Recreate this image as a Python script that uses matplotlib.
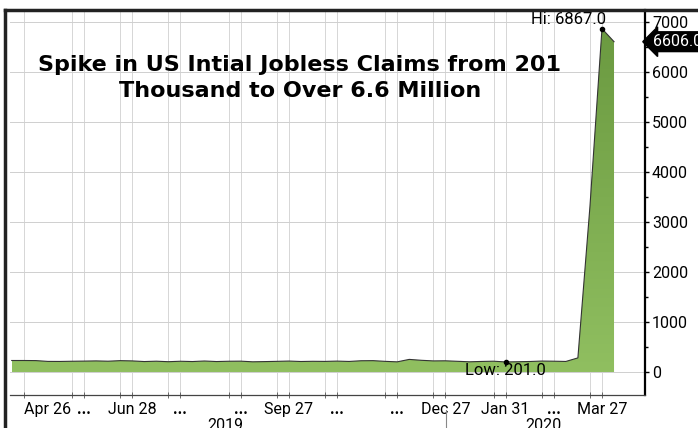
import datetime as dt
import numpy as np
import matplotlib.pyplot as plt
import matplotlib.dates as mdates
from matplotlib.colors import LinearSegmentedColormap
from matplotlib.lines import Line2D

plt.rcParams['font.family'] = ['Roboto', 'DejaVu Sans']

title = "Spike in US Intial Jobless Claims from 201\nThousand to Over 6.6 Million"

# weekly initial jobless claims (thousands), Apr 19 2019 .. Apr 3 2020
start = dt.date(2019, 4, 19)
claims = [
    230, 230, 228, 212, 211, 215, 218, 222, 216, 227,
    222, 209, 216, 206, 215, 209, 220, 209, 215, 217,
    204, 208, 213, 219, 210, 214, 212, 218, 211, 225,
    227, 213, 203, 252, 234, 222, 224, 214, 204, 211,
    216, 201, 205, 210, 219, 216, 211, 282, 3307, 6867,
    6606,
]
dates = [start + dt.timedelta(weeks=i) for i in range(len(claims))]

tick_dates = [
    dt.date(2019, 4, 26), dt.date(2019, 5, 31), dt.date(2019, 6, 28),
    dt.date(2019, 7, 26), dt.date(2019, 8, 30), dt.date(2019, 9, 27),
    dt.date(2019, 10, 25), dt.date(2019, 11, 29), dt.date(2019, 12, 27),
    dt.date(2020, 1, 31), dt.date(2020, 2, 28), dt.date(2020, 3, 27),
]
tick_labels = ["Apr 26", "...", "Jun 28", "...", "...", "Sep 27",
               "...", "...", "Dec 27", "Jan 31", "...", "Mar 27"]
y_ticks = [0, 1000, 2000, 3000, 4000, 5000, 6000, 7000]

hi_i = int(np.argmax(claims))
lo_i = int(np.argmin(claims))

W, H = 698, 428
fig = plt.figure(figsize=(W / 100, H / 100), dpi=100)
ax = fig.add_axes([10 / W, 33 / H, 635 / W, 385 / H])

x = mdates.date2num(dates)
y = np.array(claims, dtype=float)

# gradient green fill under the line
poly = ax.fill_between(x, y, 0, color='none', lw=0)
cmap = LinearSegmentedColormap.from_list('g', ['#90bf60', '#6a9940'])
grad = np.linspace(0, 1, 256).reshape(-1, 1)
img = ax.imshow(grad, cmap=cmap, aspect='auto', origin='lower',
                extent=[x[0], x[-1], 0, 7000], zorder=2)
img.set_clip_path(poly.get_paths()[0], transform=ax.transData)
ax.plot(x, y, color='#333333', lw=0.8, zorder=3)

ax.set_xlim(mdates.date2num(dt.date(2019, 4, 18)), mdates.date2num(dt.date(2020, 4, 21)))
ax.set_ylim(-460, 7240)

# axes and ticks
ax.yaxis.tick_right()
ax.set_yticks(y_ticks)
ax.set_yticklabels([str(v) for v in y_ticks])
ax.set_yticks(np.arange(500, 7000, 1000), minor=True)
ax.set_xticks(mdates.date2num(tick_dates))
ax.set_xticklabels(tick_labels)
ax.set_xticks(mdates.date2num(tick_dates[1:]) - 7, minor=True)
ax.tick_params(axis='y', which='both', direction='out', length=3, width=1,
               labelsize=11.5, pad=2, colors='black')
ax.tick_params(axis='y', which='minor', length=2)
ax.tick_params(axis='x', which='both', direction='inout', length=4, width=0.6,
               labelsize=11.5, pad=3, color='#555555')
for lab in ax.get_xticklabels():
    if lab.get_text() == "...":
        lab.set_fontweight('bold')
ax.get_xticklabels()[0].set_horizontalalignment('left')

for s in ['left', 'top']:
    ax.spines[s].set_visible(False)
ax.spines['right'].set_linewidth(1.6)
ax.spines['right'].set_color('black')
ax.spines['bottom'].set_linewidth(0.9)
ax.spines['bottom'].set_color('#444444')

ax.grid(axis='y', which='major', color='#cfcfcf', lw=0.7)
ax.grid(axis='x', which='both', color='#d6d6d6', lw=0.7)
ax.set_axisbelow(True)

# hi / low / last markers
ax.plot(x[hi_i], y[hi_i], 'o', color='black', ms=3, zorder=4)
ax.annotate(f"Hi: {claims[hi_i]:.1f}", (x[hi_i], y[hi_i]), xytext=(3, 1),
            textcoords='offset points', ha='right', va='bottom', fontsize=12)
ax.plot(x[lo_i], y[lo_i], 'o', color='black', ms=3, zorder=4)
ax.annotate(f"Low: {claims[lo_i]:.1f}", (x[lo_i], y[lo_i]), xytext=(0, -1),
            textcoords='offset points', ha='center', va='top', fontsize=12)
ax.annotate(f"{claims[-1]:.1f}", xy=(1, claims[-1]), xycoords=('axes fraction', 'data'),
            xytext=(6, 0), textcoords='offset points', ha='left', va='center',
            color='white', fontsize=11.5, annotation_clip=False,
            bbox=dict(boxstyle='larrow,pad=0.15', fc='black', ec='black'))

fig.text(300 / W, 1 - 78 / H, title, ha='center', va='center', fontsize=16,
         fontweight='bold', family='DejaVu Sans', linespacing=1.4)

# year labels and separator below the axis
fig.text(225 / W, 1 - 418 / H, "2019", ha='center', va='top', fontsize=11.5)
fig.text(543 / W, 1 - 418 / H, "2020", ha='center', va='top', fontsize=11.5)
fig.add_artist(Line2D([446 / W, 446 / W], [0, 1 - 410 / H], color='#888888', lw=0.8))

# image frame
fig.add_artist(Line2D([5 / W, 1], [1 - 10 / H, 1 - 10 / H], color='#222222', lw=2.5))
fig.add_artist(Line2D([5 / W, 5 / W], [0, 1 - 10 / H], color='#222222', lw=2.5))

fig.savefig("out.png", dpi=100)
